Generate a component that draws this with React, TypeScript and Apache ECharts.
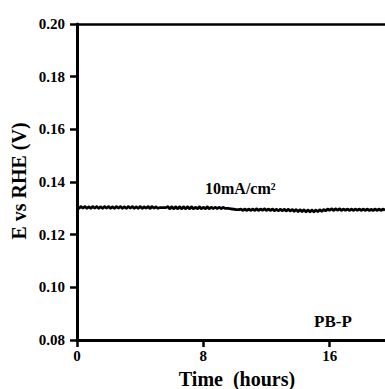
import React, { useEffect, useRef } from "react";
import * as echarts from "echarts";

// Sampling interval of the recorded potential (hours)
const sampleStepHours = 0.125;

// Potential E vs RHE (V), one row per hour, 8 samples per hour
const potentialV: number[] = [
  0.1305, 0.1300, 0.1306, 0.1301, 0.1306, 0.1300, 0.1305, 0.1300,
  0.1306, 0.1301, 0.1306, 0.1300, 0.1305, 0.1300, 0.1306, 0.1301,
  0.1306, 0.1300, 0.1305, 0.1300, 0.1306, 0.1301, 0.1306, 0.1300,
  0.1305, 0.1300, 0.1306, 0.1301, 0.1306, 0.1300, 0.1305, 0.1300,
  0.1306, 0.1300, 0.1305, 0.1301, 0.1306, 0.1300, 0.1306, 0.1301,
  0.1305, 0.1300, 0.1303, 0.1303, 0.1303, 0.1303, 0.1306, 0.1299,
  0.1305, 0.1299, 0.1305, 0.1299, 0.1305, 0.1299, 0.1305, 0.1299,
  0.1305, 0.1299, 0.1305, 0.1299, 0.1304, 0.1299, 0.1305, 0.1299,
  0.1304, 0.1299, 0.1305, 0.1299, 0.1304, 0.1299, 0.1304, 0.1299,
  0.1304, 0.1299, 0.1304, 0.1300, 0.1300, 0.1299, 0.1298, 0.1297,
  0.1296, 0.1295, 0.1295, 0.1297, 0.1292, 0.1297, 0.1292, 0.1297,
  0.1292, 0.1297, 0.1292, 0.1298, 0.1292, 0.1297, 0.1293, 0.1298,
  0.1292, 0.1297, 0.1292, 0.1297, 0.1291, 0.1296, 0.1291, 0.1296,
  0.1291, 0.1296, 0.1290, 0.1296, 0.1290, 0.1295, 0.1289, 0.1295,
  0.1288, 0.1294, 0.1288, 0.1294, 0.1287, 0.1293, 0.1287, 0.1293,
  0.1287, 0.1293, 0.1288, 0.1294, 0.1289, 0.1295, 0.1291, 0.1297,
  0.1293, 0.1298, 0.1292, 0.1298, 0.1293, 0.1298, 0.1292, 0.1297,
  0.1293, 0.1297, 0.1292, 0.1297, 0.1292, 0.1297, 0.1293, 0.1297,
  0.1292, 0.1297, 0.1292, 0.1297, 0.1292, 0.1296, 0.1292, 0.1297,
  0.1292, 0.1297, 0.1292, 0.1297, 0.1292,
];

const xTicks = { min: 0, max: 19.5, interval: 8 };
const yTicks = { min: 0.08, max: 0.2, interval: 0.02 };

const yAxisTitle = "E vs RHE (V)";
const xAxisTitle = "Time  (hours)";
const currentLabel = "10mA/cm²";
const sampleLabel = "PB-P";

const FONT = "'Liberation Serif', 'Times New Roman', serif";

export default function App() {
  const ref = useRef<HTMLDivElement>(null);

  useEffect(() => {
    if (!ref.current) return;
    const chart = echarts.init(ref.current, null, { renderer: "svg" });
    const data = potentialV.map((v, i) => [i * sampleStepHours, v]);

    chart.setOption({
      animation: false,
      backgroundColor: "#ffffff",
      grid: { left: 77, right: 0, top: 24, bottom: 49, containLabel: false },
      xAxis: [
        {
          type: "value",
          min: xTicks.min,
          max: xTicks.max,
          interval: xTicks.interval,
          axisLine: { show: true, lineStyle: { color: "#000", width: 3 } },
          axisTick: { show: true, inside: false, length: 7, lineStyle: { color: "#000", width: 2.5 } },
          axisLabel: {
            show: true,
            margin: 8,
            showMaxLabel: false,
            color: "#000",
            fontFamily: FONT,
            fontWeight: "bold",
            fontSize: 15,
          },
          splitLine: { show: false },
        },
        {
          type: "value",
          position: "top",
          min: xTicks.min,
          max: xTicks.max,
          axisLine: { show: true, lineStyle: { color: "#000", width: 2.5 } },
          axisTick: { show: false },
          axisLabel: { show: false },
          splitLine: { show: false },
        },
      ],
      yAxis: {
        type: "value",
        min: yTicks.min,
        max: yTicks.max,
        interval: yTicks.interval,
        axisLine: { show: true, lineStyle: { color: "#000", width: 3 } },
        axisTick: { show: true, inside: false, length: 7, lineStyle: { color: "#000", width: 2.5 } },
        axisLabel: {
          margin: 12,
          color: "#000",
          fontFamily: FONT,
          fontWeight: "bold",
          fontSize: 15,
          formatter: (v: number) => v.toFixed(2),
        },
        splitLine: { show: false },
      },
      series: [
        {
          type: "line",
          data,
          xAxisIndex: 0,
          showSymbol: false,
          smooth: 0.4,
          lineStyle: { color: "#000", width: 2.8 },
        },
      ],
      graphic: [
        {
          type: "text",
          x: 19,
          y: 181,
          rotation: Math.PI / 2,
          style: {
            text: yAxisTitle,
            fill: "#000",
            fontFamily: FONT,
            fontWeight: "bold",
            fontSize: 20,
            textAlign: "center",
            textVerticalAlign: "middle",
          },
        },
        {
          type: "text",
          x: 237,
          y: 379,
          style: {
            text: xAxisTitle,
            fill: "#000",
            fontFamily: FONT,
            fontWeight: "bold",
            fontSize: 20,
            textAlign: "center",
            textVerticalAlign: "middle",
          },
        },
        {
          type: "text",
          x: 205,
          y: 188,
          style: {
            text: currentLabel,
            fill: "#000",
            fontFamily: FONT,
            fontWeight: "bold",
            fontSize: 16,
            textAlign: "left",
            textVerticalAlign: "middle",
          },
        },
        {
          type: "text",
          x: 314,
          y: 321,
          style: {
            text: sampleLabel,
            fill: "#000",
            fontFamily: FONT,
            fontWeight: "bold",
            fontSize: 17,
            textAlign: "left",
            textVerticalAlign: "middle",
          },
        },
      ],
    });

    return () => chart.dispose();
  }, []);

  return (
    <div
      ref={ref}
      style={{ position: "fixed", left: 0, top: 0, width: 385, height: 389 }}
    />
  );
}
